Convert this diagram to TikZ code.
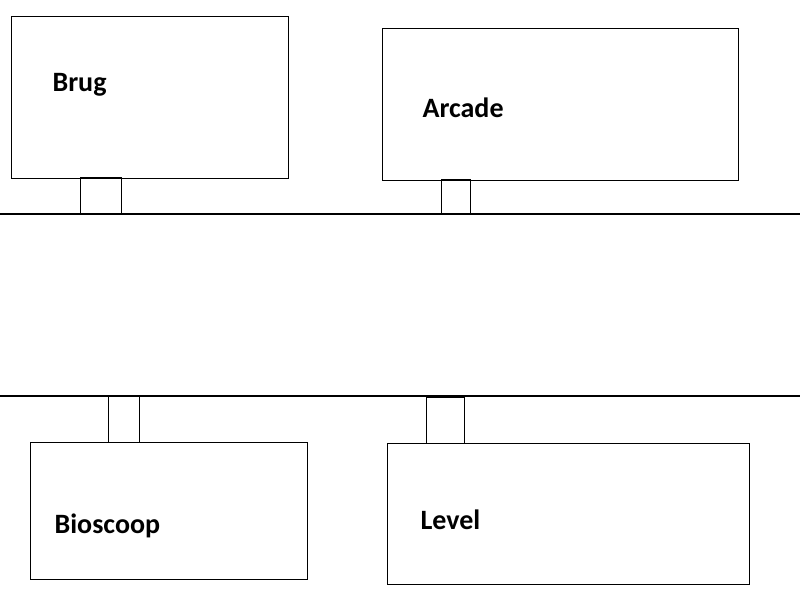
\documentclass[tikz,border=0pt]{standalone}
\usepackage{fontspec}
\setmainfont{Carlito}
\begin{document}
\begin{tikzpicture}[x=1pt, y=-1pt, line width=1.2pt,
        room/.style={draw, rectangle, anchor=north west, inner sep=0pt},
        port/.style={draw, rectangle, inner sep=0pt},
        roomlabel/.style={anchor=west, inner sep=0pt, font=\fontsize{28}{32}\selectfont\bfseries}]
        \useasboundingbox (0,0) rectangle (800,600);

%% rooms
        \node [room, minimum width=277pt, minimum height=162pt] (brug) at (11,16) {};
        \node [room, minimum width=356pt, minimum height=152pt] (arcade) at (382,28) {};
        \node [room, minimum width=277pt, minimum height=137pt] (bioscoop) at (30,442) {};
        \node [room, minimum width=362pt, minimum height=141pt] (level) at (387,443) {};

        \node [roomlabel] (brugtext) at (52,85) {Brug};
        \node [roomlabel] (arcadetext) at (422,108) {Arcade};
        \node [roomlabel] (bioscooptext) at (54,526) {Bioscoop};
        \node [roomlabel] (leveltext) at (420,520) {Level};

%% ports
        \node [port, anchor=south west, minimum width=41pt, minimum height=36pt] (brugport) at (80,214) {};
        \node [port, anchor=south west, minimum width=29pt, minimum height=34pt] (arcadeport) at (441,214) {};
        \node [port, anchor=north west, minimum width=31pt, minimum height=47pt] (bioscoopport) at (108,395) {};
        \node [port, anchor=north west, minimum width=38pt, minimum height=46pt] (levelport) at (426,397) {};

%% lines
        \coordinate (topwest) at (0,214);
        \coordinate (topeast) at (800,214);
        \coordinate (bottomwest) at (0,396);
        \coordinate (bottomeast) at (800,396);
        \draw (topwest) -- (topeast);
        \draw (bottomwest) -- (bottomeast);
\end{tikzpicture}
\end{document}
